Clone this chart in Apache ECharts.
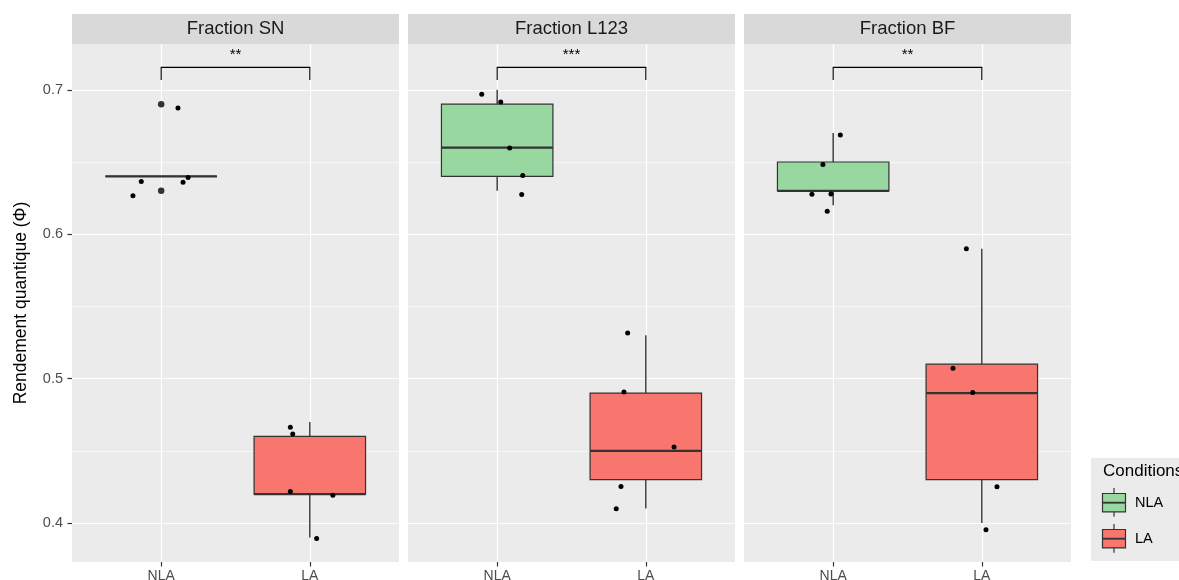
<!DOCTYPE html>
<html><head><meta charset="utf-8">
<script src="https://cdn.jsdelivr.net/npm/echarts@6/dist/echarts.min.js"></script>
<style>html,body{margin:0;padding:0;background:#fff}#c{width:1179px;height:580px}</style>
</head><body><div id="c"></div>
<script>
// ---------- data ----------
const panels = ['Fraction SN', 'Fraction L123', 'Fraction BF'];
const categories = ['NLA', 'LA'];
const yTicks = [0.4, 0.5, 0.6, 0.7];
const yMinorTicks = [0.45, 0.55, 0.65];
const yTitle = 'Rendement quantique (Φ)';
const legendTitle = 'Conditions';
// box stats per group: [lowerWhisker, q1, median, q3, upperWhisker]
const boxSN   = [[0.64, 0.64, 0.64, 0.64, 0.64], [0.39, 0.42, 0.42, 0.46, 0.47]];
const boxL123 = [[0.63, 0.64, 0.66, 0.69, 0.70], [0.41, 0.43, 0.45, 0.49, 0.53]];
const boxBF   = [[0.62, 0.63, 0.63, 0.65, 0.67], [0.40, 0.43, 0.49, 0.51, 0.59]];
// boxplot outliers [category position, value]
const outliersSN = [[1, 0.69], [1, 0.63]];
const outliersL123 = [];
const outliersBF = [];
// jittered observations [jittered category position (1 = NLA, 2 = LA), value]
const pointsSN = [[1.113, 0.6874], [0.866, 0.6365], [1.147, 0.636], [1.181, 0.6392], [0.810, 0.6267],
                  [1.869, 0.4663], [1.885, 0.4617], [1.869, 0.4219], [2.155, 0.4193], [2.046, 0.3892]];
const pointsL123 = [[0.896, 0.6969], [1.024, 0.6915], [1.084, 0.6596], [1.172, 0.6406], [1.165, 0.6274],
                    [1.878, 0.5316], [1.853, 0.4908], [2.190, 0.4526], [1.833, 0.4253], [1.801, 0.4099]];
const pointsBF = [[1.048, 0.6686], [0.931, 0.6483], [0.857, 0.6276], [0.985, 0.6279], [0.960, 0.6158],
                  [1.896, 0.5899], [1.806, 0.5071], [1.939, 0.4904], [2.102, 0.4251], [2.028, 0.3953]];
// significance annotations
const signifLabels = ['**', '***', '**'];
const signifBar = 0.7155, signifTickEnd = 0.7067, signifText = 0.7245;

const boxes = [boxSN, boxL123, boxBF];
const outliers = [outliersSN, outliersL123, outliersBF];
const points = [pointsSN, pointsL123, pointsBF];

// ---------- style / layout ----------
const FONT = '"Liberation Sans", Arial, Helvetica, sans-serif';
const fills = ['#98D8A0', '#F8766D'];
const stroke = '#333333';
const gridLefts = [72, 408, 744];
const gridW = 327, gridTop = 44, gridH = 518;
const Y_MIN = 0.373, Y_MAX = 0.7317;

const grids = [], xAxes = [], yAxes = [], series = [], graphics = [];

gridLefts.forEach((l, i) => {
  grids.push({left: l, top: gridTop, width: gridW, height: gridH, show: true,
              backgroundColor: '#EBEBEB', borderWidth: 0, containLabel: false, outerBoundsMode: 'none'});
  xAxes.push({type: 'value', gridIndex: i, min: 0.4, max: 2.6,
    axisLine: {show: false},
    axisTick: {show: true, customValues: [1, 2], length: 4.5, lineStyle: {color: stroke, width: 1.2}},
    axisLabel: {show: true, customValues: [1, 2], formatter: v => categories[Math.round(v) - 1] || '',
                color: '#4D4D4D', fontSize: 14, fontFamily: FONT, margin: 7},
    splitLine: {show: true, lineStyle: {color: '#FFFFFF', width: 1.2}}
  });
});
gridLefts.forEach((l, i) => {
  yAxes.push({type: 'value', gridIndex: i, min: Y_MIN, max: Y_MAX,
    name: i === 0 ? yTitle : '', nameLocation: 'middle', nameRotate: 90, nameGap: 42,
    nameTextStyle: {fontSize: 17.5, fontFamily: FONT, color: '#000'},
    axisLine: {show: false},
    axisTick: {show: i === 0, customValues: yTicks, length: 4.5, lineStyle: {color: stroke, width: 1.2}},
    axisLabel: {show: i === 0, customValues: yTicks, formatter: v => v.toFixed(1),
                color: '#4D4D4D', fontSize: 14.5, fontFamily: FONT, margin: 9},
    splitLine: {show: true, lineStyle: {color: '#FFFFFF', width: 1.2}}
  });
});
gridLefts.forEach((l, i) => {
  yAxes.push({type: 'value', gridIndex: i, min: Y_MIN, max: Y_MAX, position: 'right',
    axisLine: {show: false},
    axisTick: {show: false, customValues: yMinorTicks},
    axisLabel: {show: false, customValues: yMinorTicks},
    splitLine: {show: true, lineStyle: {color: '#FFFFFF', width: 0.6}}
  });
});

function renderBox(params, api) {
  const x = api.value(0);
  const lo = api.value(1), q1 = api.value(2), med = api.value(3), q3 = api.value(4), hi = api.value(5);
  const gi = api.value(6);
  const hw = 0.375;
  const pL = api.coord([x - hw, q3]);
  const pR = api.coord([x + hw, q1]);
  const pM = api.coord([x, med]);
  const pLo = api.coord([x, lo]), pQ1 = api.coord([x, q1]), pQ3 = api.coord([x, q3]), pHi = api.coord([x, hi]);
  return {type: 'group', children: [
    {type: 'line', shape: {x1: pHi[0], y1: pHi[1], x2: pQ3[0], y2: pQ3[1]}, style: {stroke, lineWidth: 1.4}},
    {type: 'line', shape: {x1: pQ1[0], y1: pQ1[1], x2: pLo[0], y2: pLo[1]}, style: {stroke, lineWidth: 1.4}},
    {type: 'rect', shape: {x: pL[0], y: pL[1], width: pR[0] - pL[0], height: pR[1] - pL[1]},
     style: {fill: fills[gi], stroke, lineWidth: 1.2}},
    {type: 'line', shape: {x1: pL[0], y1: pM[1], x2: pR[0], y2: pM[1]}, style: {stroke, lineWidth: 2.3}}
  ]};
}

function renderSignif(params, api) {
  const a = api.coord([api.value(0), api.value(2)]);
  const b = api.coord([api.value(1), api.value(2)]);
  const e = api.coord([api.value(0), api.value(3)]);
  const t = api.coord([(api.value(0) + api.value(1)) / 2, api.value(4)]);
  return {type: 'group', children: [
    {type: 'polyline', shape: {points: [[a[0], e[1]], a, b, [b[0], e[1]]]},
     style: {stroke: '#000', lineWidth: 1.1, fill: null}},
    {type: 'text', x: t[0], y: t[1],
     style: {text: api.value(5), fill: '#000',
             font: '15px ' + FONT, textAlign: 'center', textVerticalAlign: 'middle'}}
  ]};
}

boxes.forEach((b, i) => {
  series.push({type: 'custom', name: panels[i] + ' box', xAxisIndex: i, yAxisIndex: i, z: 3,
    renderItem: renderBox, encode: {x: 0, y: [1, 2, 3, 4, 5]},
    data: b.map((s, g) => [g + 1, ...s, g]), silent: true});
  series.push({type: 'scatter', name: panels[i] + ' outliers', xAxisIndex: i, yAxisIndex: i, z: 4,
    symbolSize: 6.5, itemStyle: {color: stroke, opacity: 1}, data: outliers[i], silent: true});
  series.push({type: 'scatter', name: panels[i] + ' points', xAxisIndex: i, yAxisIndex: i, z: 5,
    symbolSize: 5, itemStyle: {color: '#000', opacity: 1}, data: points[i], silent: true});
  series.push({type: 'custom', name: panels[i] + ' signif', xAxisIndex: i, yAxisIndex: i, z: 5,
    renderItem: renderSignif, encode: {x: [0, 1], y: [2, 3, 4]},
    dimensions: ['x1', 'x2', 'bar', 'tick', 'text', {name: 'label', type: 'ordinal'}],
    data: [[1, 2, signifBar, signifTickEnd, signifText, signifLabels[i]]], silent: true});
  // strip
  graphics.push({type: 'rect', left: gridLefts[i], top: 14, shape: {width: gridW, height: 30},
    style: {fill: '#D9D9D9'}, silent: true});
  graphics.push({type: 'text', x: gridLefts[i] + gridW / 2, y: 29,
    style: {text: panels[i], fill: '#1A1A1A', font: '18.5px ' + FONT, textAlign: 'center', textVerticalAlign: 'middle'}});
});

// legend
graphics.push({type: 'rect', shape: {x: 1091, y: 458, width: 88, height: 103}, style: {fill: '#EBEBEB'}, silent: true});
graphics.push({type: 'text', x: 1103, y: 471, style: {text: legendTitle, fill: '#000', font: '17px ' + FONT,
  textAlign: 'left', textVerticalAlign: 'middle'}});
categories.forEach((c, g) => {
  const cy = 502.7 + 36 * g;
  graphics.push({type: 'line', shape: {x1: 1114, y1: cy - 14.7, x2: 1114, y2: cy + 14}, style: {stroke, lineWidth: 1.2}});
  graphics.push({type: 'rect', shape: {x: 1102.5, y: cy - 9.2, width: 23, height: 18.4}, style: {fill: fills[g], stroke, lineWidth: 1.2}});
  graphics.push({type: 'line', shape: {x1: 1102.5, y1: cy, x2: 1125.5, y2: cy}, style: {stroke, lineWidth: 1.8}});
  graphics.push({type: 'text', x: 1135, y: cy, style: {text: c, fill: '#000', font: '14.5px ' + FONT,
    textAlign: 'left', textVerticalAlign: 'middle'}});
});

const chart = echarts.init(document.getElementById('c'), null, {renderer: 'canvas'});
chart.setOption({
  backgroundColor: '#FFFFFF',
  animation: false,
  textStyle: {fontFamily: FONT},
  grid: grids, xAxis: xAxes, yAxis: yAxes, series: series, graphic: graphics
});
</script></body></html>
